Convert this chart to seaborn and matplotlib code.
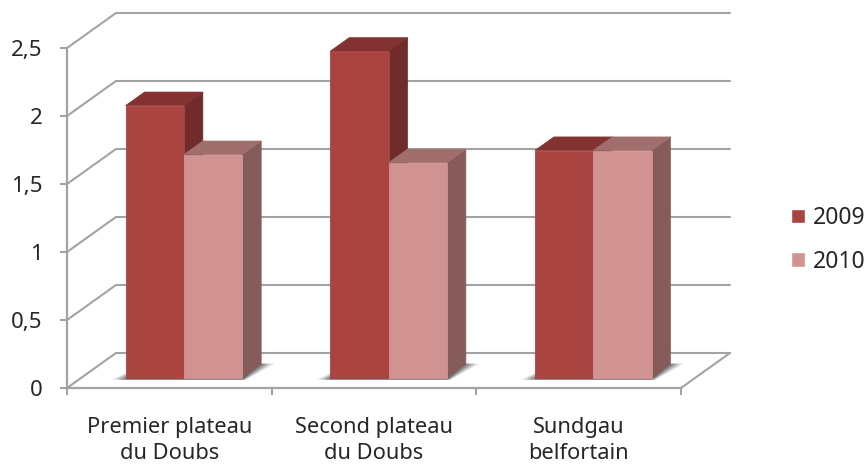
import matplotlib
matplotlib.use("Agg")
import pandas as pd
import matplotlib.pyplot as plt
from matplotlib.patches import Polygon
import seaborn as sns

categories = ["Premier plateau\ndu Doubs", "Second plateau\ndu Doubs", "Sundgau\nbelfortain"]
years = ["2009", "2010"]
values_2009 = [2.0, 2.4, 1.67]
values_2010 = [1.64, 1.58, 1.67]
y_ticks = [0, 0.5, 1, 1.5, 2, 2.5]
y_labels = ["0", "0,5", "1", "1,5", "2", "2,5"]

front_colors = ["#A94441", "#D19392"]
side_colors = ["#6F2C2A", "#865C5B"]
top_colors = ["#833231", "#9F6E6D"]
grid_color = "#A3A3A3"
text_color = "#262626"

sns.set_theme(style="white")
plt.rcParams["font.family"] = ["Noto Sans", "DejaVu Sans"]

df = pd.DataFrame({
    "zone": categories * 2,
    "year": [years[0]] * 3 + [years[1]] * 3,
    "value": values_2009 + values_2010,
})

fig = plt.figure(figsize=(8.66, 4.66), dpi=100)
ax = fig.add_axes([67 / 866, 78 / 466, 614 / 866, 340 / 466])

sns.barplot(data=df, x="zone", y="value", hue="year", palette=front_colors,
            width=0.57, gap=0, saturation=1, ax=ax)

ax.set_xlim(-0.5, 2.5)
ax.set_ylim(0, 2.5)
ax.patch.set_alpha(0)

# one pixel in data units, used for the fake depth
xu = 3 / 614
yu = 2.5 / 340
depth_x = 49 * xu
depth_y = 35 * yu


def proj(x, y, d):
    return (x + d * depth_x, y + d * depth_y)


# back wall and floor
for t in y_ticks:
    pts = [proj(-0.5, t, 0), proj(-0.5, t, 1), proj(2.5, t, 1)]
    ax.plot(*zip(*pts), color=grid_color, lw=1.5, clip_on=False, zorder=1)
ax.plot(*zip(proj(2.5, 0, 1), proj(2.5, 0, 0)), color=grid_color, lw=1.5, clip_on=False, zorder=1)

bar_front = 0.296
bar_back = 0.684
for i, container in enumerate(ax.containers):
    for p in container.patches:
        x0, y0 = proj(p.get_x(), 0, bar_front)
        w = p.get_width()
        h = p.get_height()
        p.set_x(x0)
        p.set_y(y0)
        p.set_zorder(4 + 2 * i)
        p.set_edgecolor(front_colors[i])
        p.set_linewidth(0.6)
        p.set_clip_on(False)
        x1 = x0 + w
        off_x = (bar_back - bar_front) * depth_x
        off_y = (bar_back - bar_front) * depth_y
        side = [(x1, y0), (x1 + off_x, y0 + off_y), (x1 + off_x, y0 + h + off_y), (x1, y0 + h)]
        top = [(x0, y0 + h), (x1, y0 + h), (x1 + off_x, y0 + h + off_y), (x0 + off_x, y0 + h + off_y)]
        ax.add_patch(Polygon(side, closed=True, fc=side_colors[i], ec=side_colors[i], lw=0.5,
                             clip_on=False, zorder=3 + 2 * i))
        ax.add_patch(Polygon(top, closed=True, fc=top_colors[i], ec=top_colors[i], lw=0.5,
                             clip_on=False, zorder=3 + 2 * i))

# soft shadow on the floor behind each group
for k in range(3):
    left = ax.containers[0].patches[k].get_x()
    right = ax.containers[1].patches[k].get_x() + ax.containers[1].patches[k].get_width()
    base = ax.containers[0].patches[k].get_y()
    for grow, alpha in [(13, 0.18), (9, 0.26), (5, 0.34), (1, 0.45)]:
        sh = [(left - grow * xu, base - 2 * yu), (right + grow * xu * 0.3, base - 2 * yu),
              (right + (19 + grow) * xu, base + 14 * yu), (left + 20 * xu, base + 14 * yu)]
        ax.add_patch(Polygon(sh, closed=True, fc="#404040", ec="none", alpha=alpha,
                             clip_on=False, zorder=2))

for name in ["top", "right"]:
    ax.spines[name].set_visible(False)
for name in ["left", "bottom"]:
    ax.spines[name].set_color(grid_color)
    ax.spines[name].set_linewidth(1.6)
    ax.spines[name].set_zorder(1.5)

ax.set_xlabel("")
ax.set_ylabel("")
ax.set_yticks(y_ticks)
ax.set_yticklabels(y_labels)
ax.tick_params(axis="y", length=5, width=1.5, color=grid_color, labelsize=16, labelcolor=text_color, pad=12.5, left=True)
ax.set_xticks([-0.5, 0.5, 1.5, 2.5], minor=True)
ax.tick_params(axis="x", which="minor", length=5, width=1.5, color=grid_color, bottom=True)
ax.tick_params(axis="x", which="major", length=0, labelsize=15.7, labelcolor=text_color, pad=21)
for lab in ax.get_xticklabels():
    lab.set_linespacing(1.33)

sns.move_legend(ax, loc="center left", bbox_to_anchor=(791 / 866, 226 / 466),
                bbox_transform=fig.transFigure, title=None, frameon=False, fontsize=16.5,
                handlelength=0.6, handleheight=0.6, handletextpad=0.35, labelspacing=0.85,
                borderpad=0, borderaxespad=0)

fig.savefig("out.png", dpi=100, facecolor="white")
